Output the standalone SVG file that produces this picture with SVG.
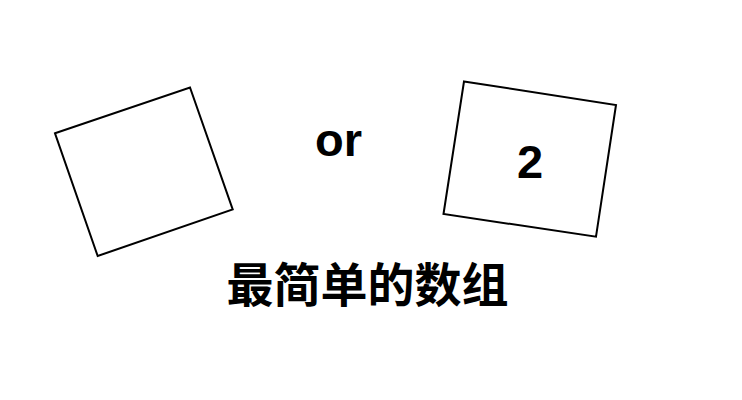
<svg xmlns="http://www.w3.org/2000/svg" width="742" height="400" viewBox="0 0 742 400">
<style>
.box{fill:#fff;stroke:#000;stroke-width:2;stroke-linejoin:miter}
.t{font-family:"Liberation Sans",Arial,"Noto Sans CJK SC",sans-serif;font-weight:bold;fill:#000;text-anchor:middle}
</style>
<rect width="742" height="400" fill="#fff"/>
<g id="left-box">
<polygon class="box" points="55,133.3 190,87.5 232.7,209.5 97.7,256"/>
</g>
<g id="or-label">
<text class="t" x="338.5" y="156" font-size="47">or</text>
</g>
<g id="right-box">
<polygon class="box" points="464,81.5 616,105 596,236.7 443.5,214"/>
<text class="t" x="530" y="178" font-size="47">2</text>
</g>
<g id="caption">
<text class="t" x="367.5" y="302" font-size="47" style="font-family:'Noto Sans CJK SC',sans-serif">最简单的数组</text>
</g>
<g id="connectors"></g>
</svg>
